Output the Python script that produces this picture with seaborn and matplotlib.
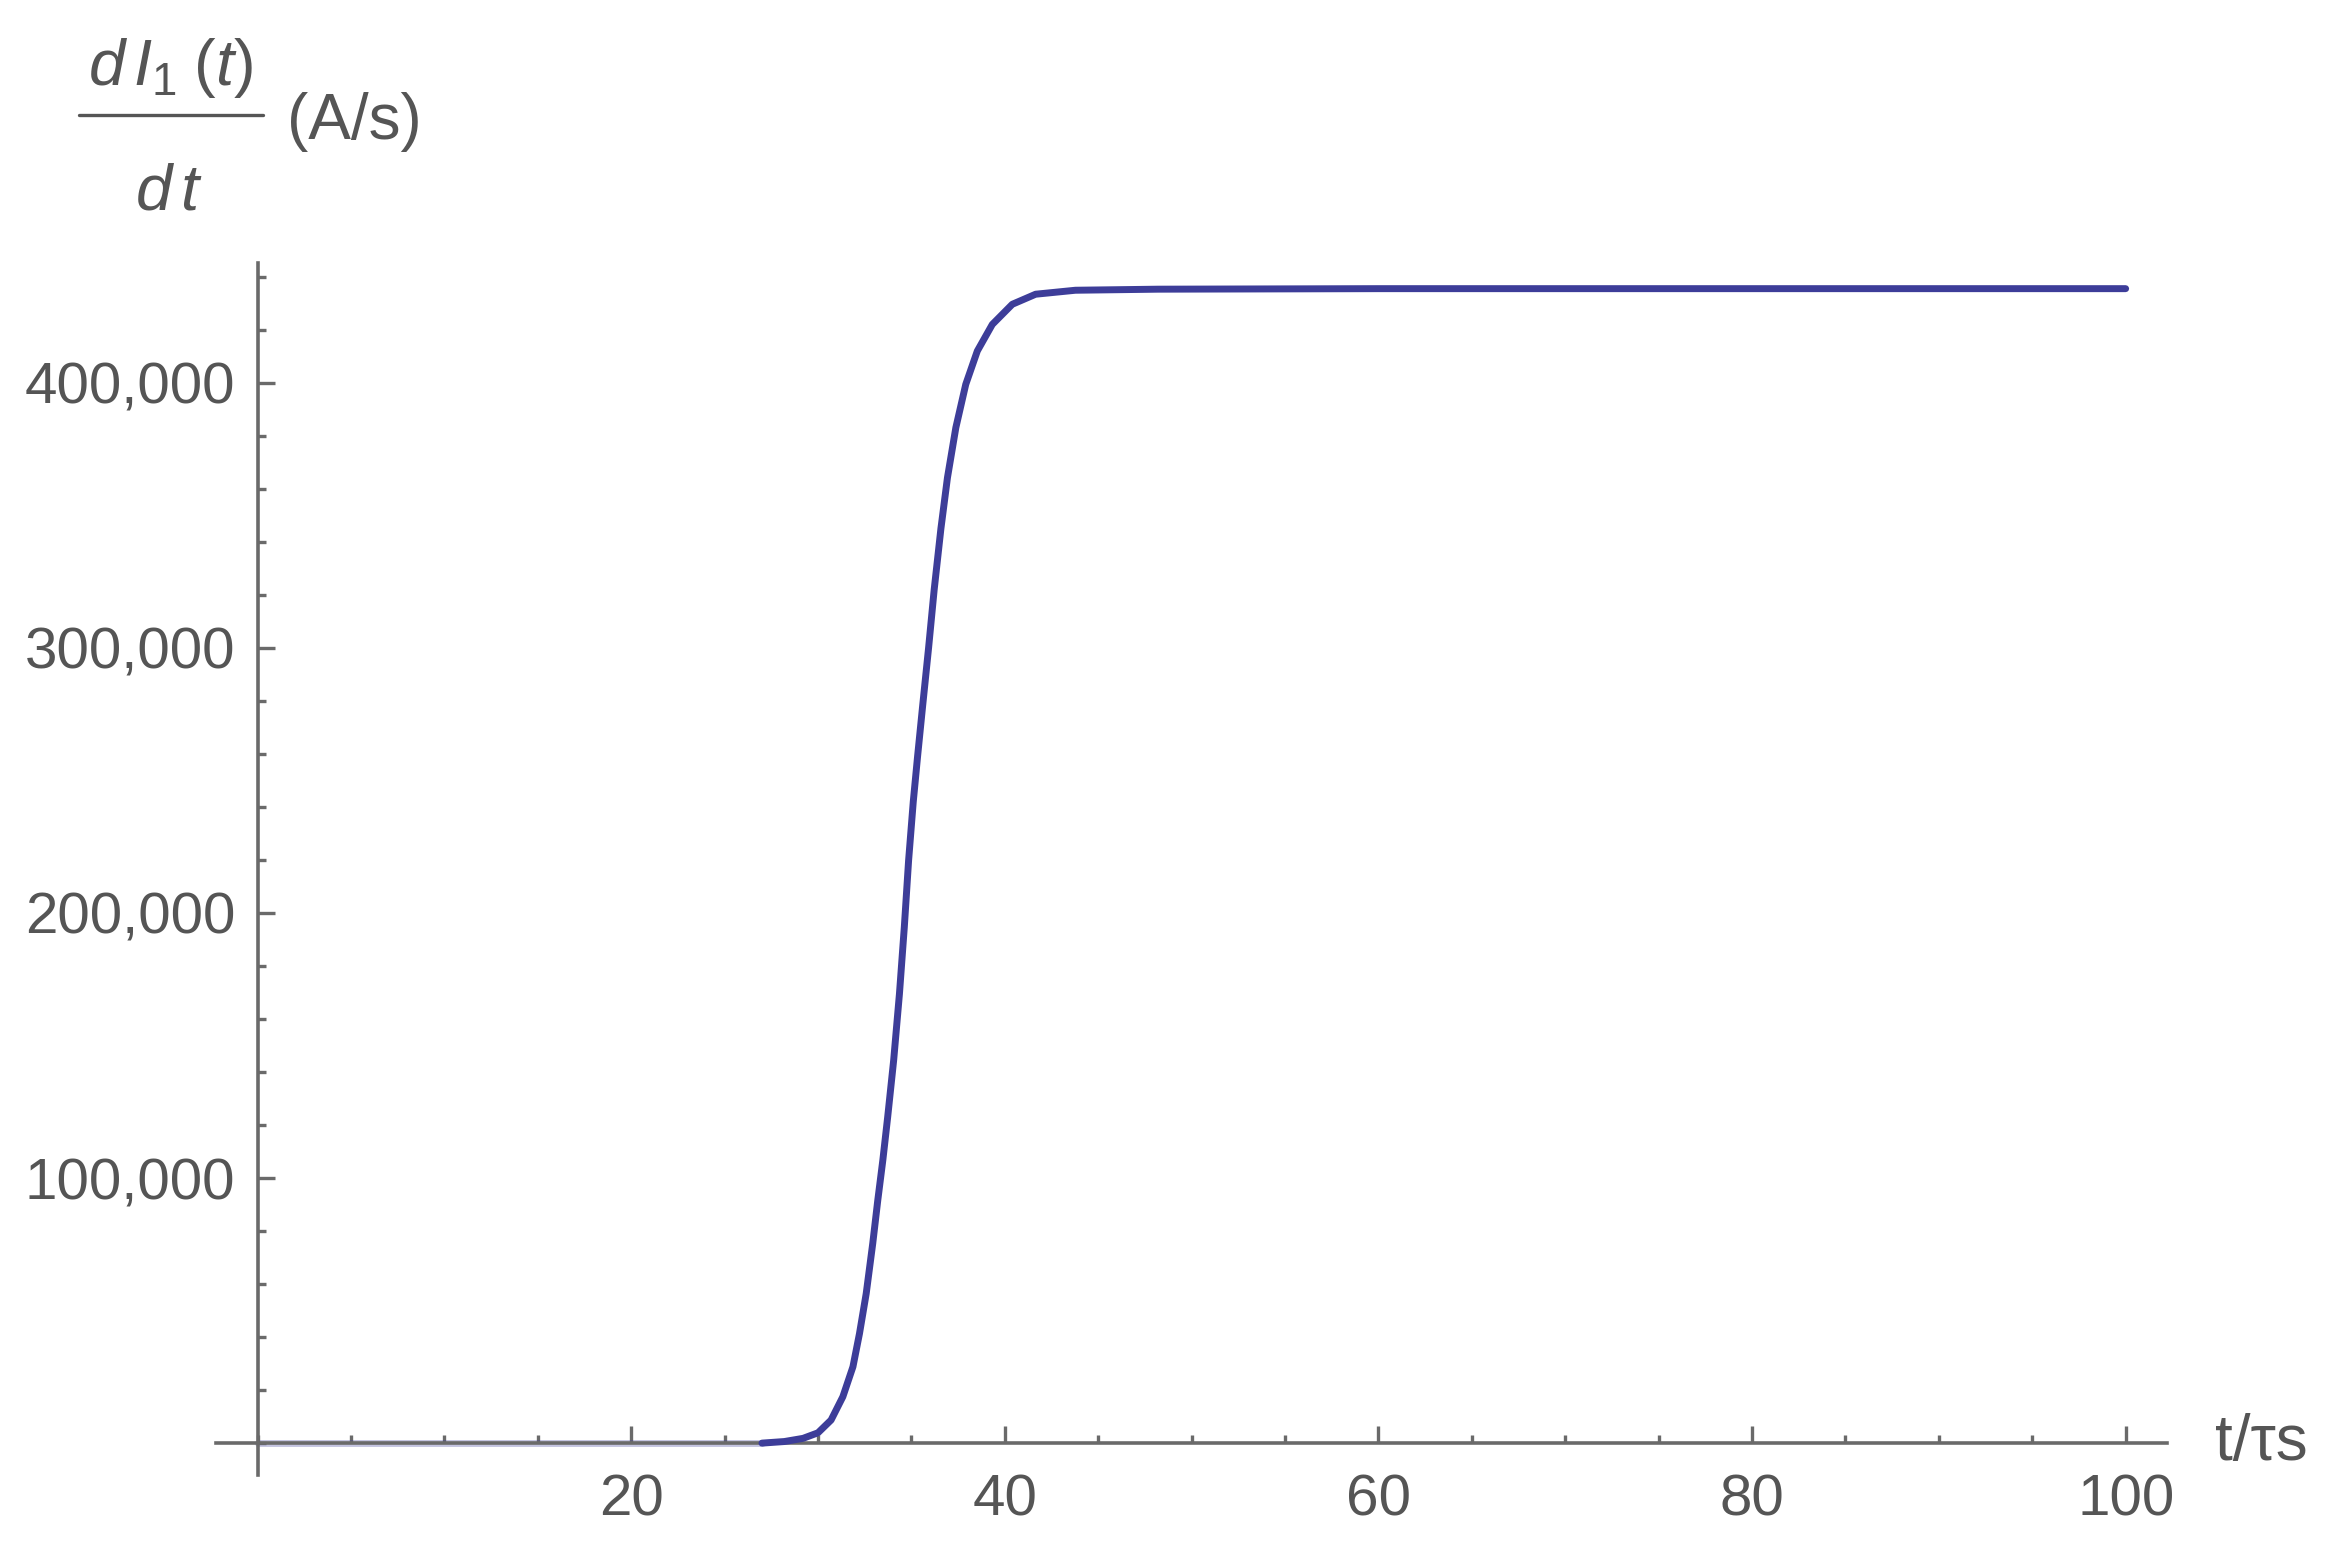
import matplotlib
matplotlib.use("Agg")
import matplotlib.pyplot as plt
import seaborn as sns
import pandas as pd
from matplotlib.ticker import FixedLocator, MultipleLocator, FuncFormatter
from matplotlib.lines import Line2D

# values (t / tau_s, dI1/dt in A/s)
t_vals = [0, 10, 20, 27, 28.2, 29.2, 30.0, 30.7, 31.33, 31.87, 32.22, 32.58, 32.93,
          33.2, 33.47, 33.73, 34.05, 34.36, 34.62, 34.85, 35.1, 35.33, 35.6, 35.92,
          36.22, 36.58, 36.93, 37.38, 37.91, 38.53, 39.33, 40.4, 41.65, 43.78, 48.2,
          60, 70, 80, 90, 100]
didt_vals = [0, 0, 0, 0, 600, 1800, 3900, 8700, 17500, 28800, 41300, 56400, 75300,
             91600, 106700, 123000, 144400, 169500, 194600, 219800, 242000, 259000, 278000, 300000,
             322000, 345000, 364200, 383100, 399400, 412000, 422000, 429600, 433400, 434900, 435300,
             435500, 435500, 435500, 435500, 435500]

x_major = [20, 40, 60, 80, 100]
y_major = [100000, 200000, 300000, 400000]

df = pd.DataFrame({"t": t_vals, "didt": didt_vals})
flat = df[df["t"] <= 27]
rise = df[df["t"] >= 27]

sns.set_style("white")
plt.rcParams["font.family"] = ["Liberation Sans", "DejaVu Sans"]
plt.rcParams["mathtext.fontset"] = "custom"
plt.rcParams["mathtext.rm"] = "Liberation Sans"
plt.rcParams["mathtext.it"] = "Liberation Sans:italic"

line_col = "#3d3d99"
axis_col = "#6a6a6a"
text_col = "#555555"

fig = plt.figure(figsize=(23.48, 15.48), dpi=100)
ax = fig.add_axes([0.0922, 0.0472, 0.9228 - 0.0922, 0.8298 - 0.0472])

sns.lineplot(data=flat, x="t", y="didt", ax=ax, color=line_col, linewidth=5,
             alpha=0.3, sort=False, zorder=1)
sns.lineplot(data=rise, x="t", y="didt", ax=ax, color=line_col, linewidth=5,
             sort=False, zorder=3)

ax.set_xlim(-2.2, 102.2)
ax.set_ylim(-12000, 445000)

for side in ["top", "right"]:
    ax.spines[side].set_visible(False)
ax.spines["left"].set_position(("data", 0))
ax.spines["bottom"].set_position(("data", 0))
for side in ["left", "bottom"]:
    ax.spines[side].set_color(axis_col)
    ax.spines[side].set_linewidth(2.6)
    ax.spines[side].set_zorder(2)

ax.xaxis.set_major_locator(FixedLocator(x_major))
ax.xaxis.set_minor_locator(MultipleLocator(5))
ax.yaxis.set_major_locator(FixedLocator(y_major))
ax.yaxis.set_minor_locator(MultipleLocator(20000))
ax.yaxis.set_major_formatter(FuncFormatter(lambda v, p: f"{v:,.0f}"))

ax.tick_params(which="both", direction="in", bottom=True, left=True,
               top=False, right=False, color=axis_col, width=2.4,
               labelcolor=text_col, labelsize=42)
ax.tick_params(which="major", length=12)
ax.tick_params(which="minor", length=6)
ax.tick_params(axis="x", which="major", pad=22)
ax.tick_params(axis="y", which="major", pad=16)

ax.set_xlabel("")
ax.set_ylabel("")

# axis labels in Mathematica style
ax.text(104.8, 0, "t/τs", ha="left", va="center", fontsize=46, color=text_col)

fig.text(0.0725, 0.9449, r"$d\,I_1\;(t)$", ha="center", va="baseline", fontsize=47, color=text_col)
fig.text(0.072, 0.8646, r"$d\,t$", ha="center", va="baseline", fontsize=47, color=text_col)
fig.add_artist(Line2D([0.0338, 0.1122], [0.9255, 0.9255], transform=fig.transFigure,
                      color=text_col, linewidth=2.4))
fig.text(0.1224, 0.921, "(A/s)", ha="left", va="center", fontsize=46, color=text_col)

fig.savefig("out.png", dpi=100, facecolor="white")
